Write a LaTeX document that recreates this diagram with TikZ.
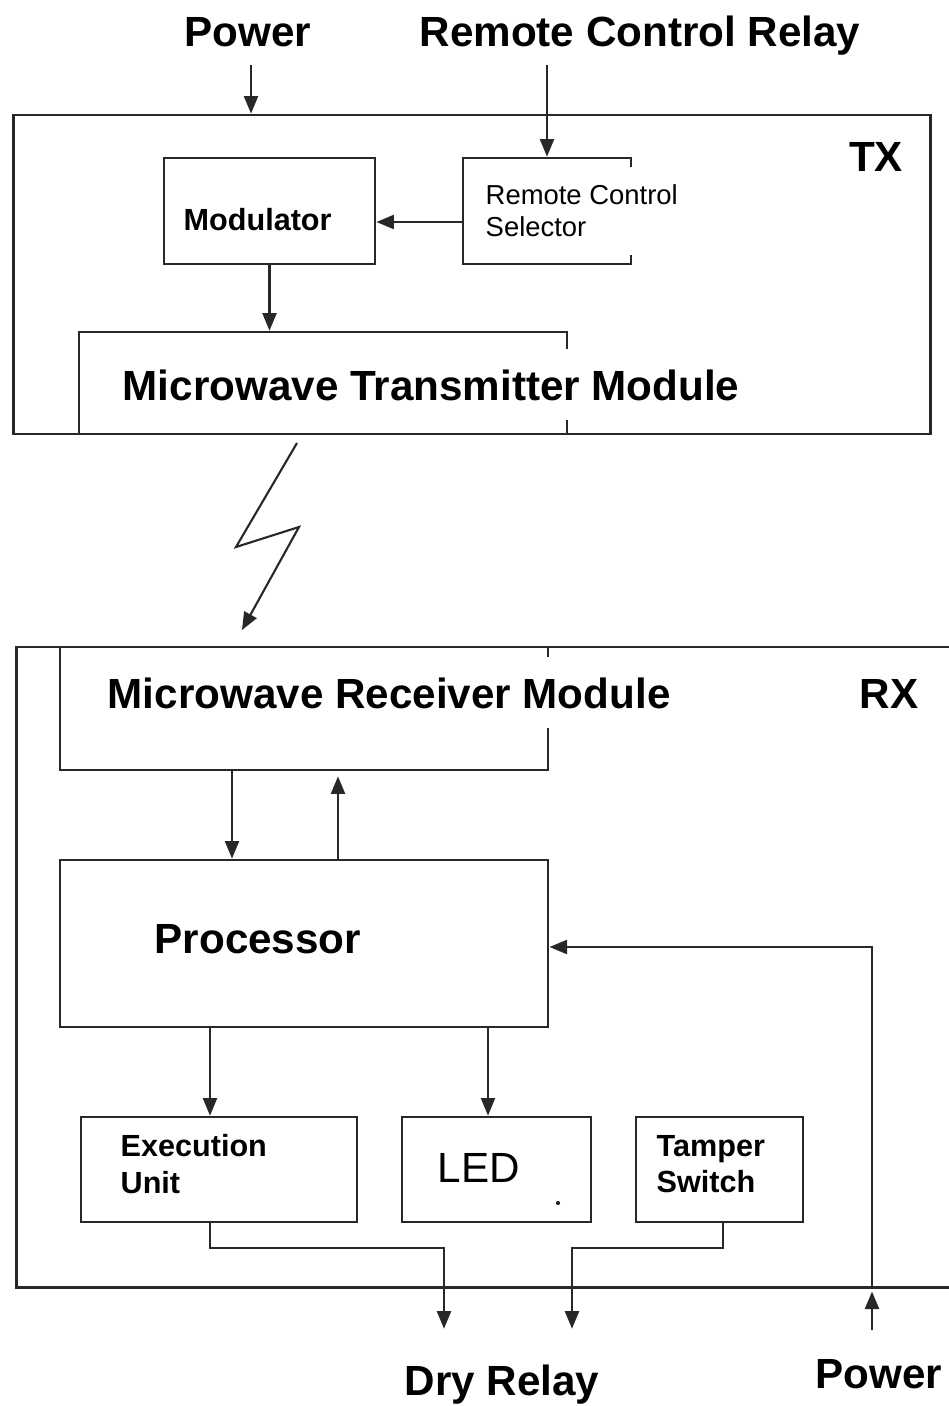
\documentclass[tikz,border=0pt]{standalone}
\usepackage{fontspec}
\setmainfont{Liberation Sans}
\usetikzlibrary{arrows.meta,calc}
\definecolor{lineink}{RGB}{40,40,40}

\begin{document}
\begin{tikzpicture}[x=0.01cm,y=-0.01cm,
    blk/.style={draw=lineink,line width=0.75pt,inner sep=0pt},
    arr/.style={draw=lineink,line width=0.6pt,-{Triangle[length=5pt,width=4pt]}},
    lbl/.style={inner sep=0pt,font=\fontsize{12}{14}\selectfont\bfseries},
    sml/.style={inner sep=0pt,font=\fontsize{8.7}{10.3}\selectfont\bfseries,align=left},
    cover/.style={fill=white,inner xsep=0pt,inner ysep=0.2cm}]
  \useasboundingbox(0,0)rectangle(948,1406);
  % outer labels
  \node[lbl,anchor=base](pwrin)at(248,46){Power};
  \node[lbl,anchor=base](rcrelay)at(640,47){Remote Control Relay};
  \node[lbl,anchor=base](dryrelay)at(502,1395){Dry Relay};
  \node[lbl,anchor=base](pwrrx)at(879,1388){Power};
  % TX side
  \node[blk,minimum width=9.16cm,minimum height=3.19cm](tx)at(472,274.5){};
  \node[lbl,anchor=base](txtag)at(876,171){TX};
  \node[blk,minimum width=2.11cm,minimum height=1.06cm](mod)at(269.5,211){};
  \node[blk,minimum width=1.68cm,minimum height=1.06cm](sel)at(547,211){};
  \node[blk,minimum width=4.88cm,minimum height=1.02cm](mtm)at(323,383){};
  \node[sml,anchor=base west](modtxt)at(183,230){Modulator};
  \node[cover,inner ysep=0.18cm,font=\fontsize{7.8}{9.1}\selectfont,align=left,anchor=west](seltxt)
    at(485,211){Remote Control\\Selector};
  \node[lbl,cover,anchor=base west](mtmtxt)at(122,400){Microwave Transmitter Module};
  % RX side
  \node[blk,minimum width=9.35cm,minimum height=6.40cm](rx)at(484.5,967){};
  \node[lbl,anchor=base](rxtag)at(889,708){RX};
  \node[blk,minimum width=4.88cm,minimum height=1.23cm](mrm)at(304,708.5){};
  \node[blk,minimum width=4.88cm,minimum height=1.67cm](proc)at(304,943.5){};
  \node[blk,minimum width=2.76cm,minimum height=1.05cm](exe)at(219,1169.5){};
  \node[blk,minimum width=1.89cm,minimum height=1.05cm](led)at(496.5,1169.5){};
  \node[blk,minimum width=1.67cm,minimum height=1.05cm](tam)at(719.5,1169.5){};
  \node[lbl,cover,anchor=base west](mrmtxt)at(107,708){Microwave Receiver Module};
  \node[lbl,anchor=base west](proctxt)at(154,953){Processor};
  \node[sml,anchor=west](exetxt)at(120,1164){Execution\\Unit};
  \node[lbl,font=\fontsize{12}{14}\selectfont,anchor=base west](ledtxt)at(437,1182){LED};
  \node[sml,anchor=west](tamtxt)at(656,1164){Tamper\\Switch};
  \fill[lineink](558,1203)circle(0.6pt);
  % TX connectors
  \draw[arr]($(pwrin.base)+(3,19)$)--($(pwrin.base |- tx.north)+(3,0)$);
  \draw[arr]($(rcrelay.base -| sel.north)+(0,18)$)--(sel.north);
  \draw[arr]($(sel.west)+(0,11)$)--($(mod.east)+(0,11)$);
  \draw[arr](mod.south)--(mod.south |- mtm.north);
  % radio link
  \draw[arr](297,443)--(236,547)--(299,527)--(242,630);
  % RX connectors
  \draw[arr]($(mrm.south)+(-72,0)$)--($(mrm.south |- proc.north)+(-72,0)$);
  \draw[arr]($(proc.north)+(34,0)$)--($(mrm.south -| proc.north)+(34,5)$);
  \draw[arr]($(exe.north |- proc.south)+(-9,0)$)--($(exe.north)+(-9,0)$);
  \draw[arr]($(led.north |- proc.south)+(-8.5,0)$)--($(led.north)+(-8.5,0)$);
  \draw[arr]($(pwrrx.north)+(-7,-28)$)--($(pwrrx.north |- rx.south)+(-7,3)$);
  \draw[arr]($(pwrrx.north |- rx.south)+(-7,0)$)|-($(proc.east)+(0,3.5)$);
  \draw[arr]($(exe.south)+(-9,0)$)--++(0,25)-|($(dryrelay.north)+(-58,-35)$);
  \draw[arr]($(tam.south)+(3.5,0)$)--++(0,25)-|($(dryrelay.north)+(70,-35)$);
\end{tikzpicture}
\end{document}
